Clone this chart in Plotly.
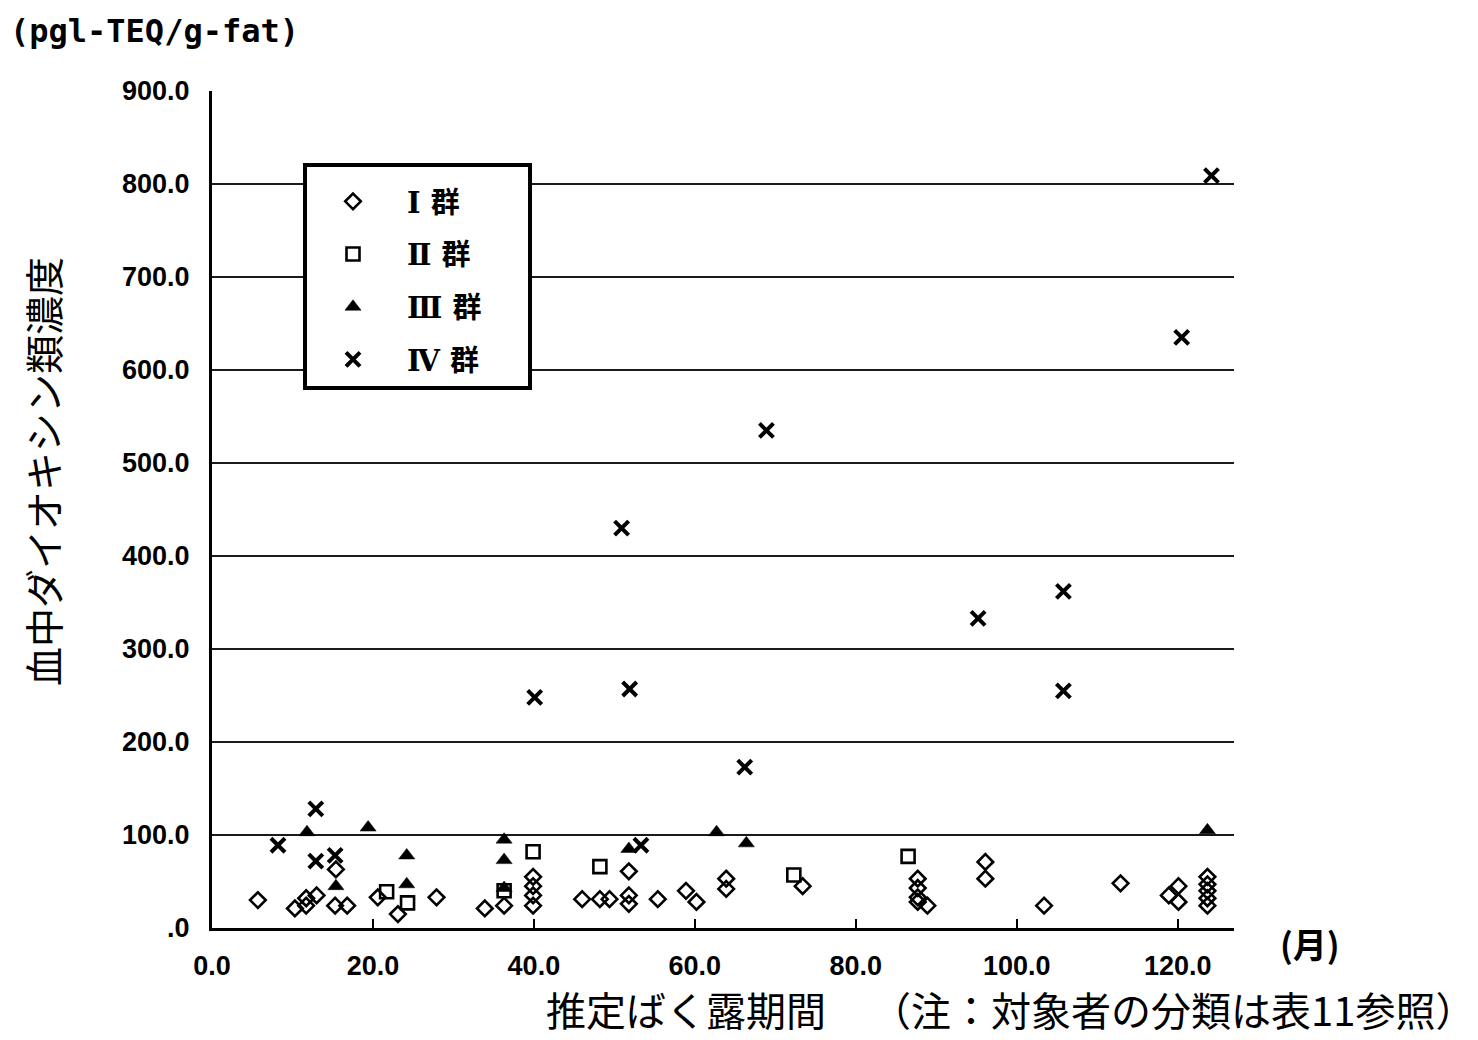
import plotly.graph_objects as go

# Data (x: estimated exposure period in months, y: blood dioxin concentration)
g1_x = [5.7, 10.3, 11.7, 11.7, 13.0, 15.4, 15.3, 16.8, 20.6, 23.1, 27.9, 33.9, 36.3,
        39.9, 39.9, 39.9, 39.9, 46.0, 48.2, 49.4, 51.8, 51.8, 51.8, 55.4, 58.9, 60.2,
        63.9, 63.9, 73.4, 87.7, 87.7, 87.7, 87.7, 88.9, 96.1, 96.1, 103.4, 112.9, 118.9,
        120.1, 120.1, 123.7, 123.7, 123.7, 123.7, 123.7]
g1_y = [30, 21, 24, 32, 35, 63, 24, 24, 33, 15, 33, 21, 24,
        55, 45, 35, 24, 31, 31, 31, 61, 35, 26, 31, 40, 28,
        53, 42, 45, 53, 43, 33, 28, 24, 71, 53, 24, 48, 35,
        45, 28, 55, 47, 40, 32, 24]

g2_x = [21.7, 24.3, 36.3, 39.9, 48.2, 72.3, 86.5]
g2_y = [39, 27, 40, 82, 66, 57, 77]

g3_x = [11.8, 15.4, 19.4, 24.2, 24.2, 36.3, 36.3, 36.3, 51.8, 62.7, 66.4, 123.7]
g3_y = [103, 45, 108, 78, 47, 95, 73, 43, 85, 103, 91, 105]

g4_x = [8.2, 12.9, 12.9, 15.3, 40.1, 50.9, 51.9, 53.3, 66.2, 68.9, 95.2, 105.8, 105.8, 120.5, 124.2]
g4_y = [89, 128, 72, 78, 248, 430, 257, 89, 173, 535, 333, 362, 255, 635, 809]

group_names = ["Ⅰ 群", "Ⅱ 群", "Ⅲ 群", "Ⅳ 群"]

y_tickvals = [0, 100, 200, 300, 400, 500, 600, 700, 800, 900]
y_ticktext = [".0", "100.0", "200.0", "300.0", "400.0", "500.0", "600.0", "700.0", "800.0", "900.0"]
x_tickvals = [0, 20, 40, 60, 80, 100, 120]
x_ticktext = ["0.0", "20.0", "40.0", "60.0", "80.0", "100.0", "120.0"]

TXT = "Liberation Sans"
CJK = "Noto Sans CJK JP"

# plot area geometry in pixels (for paper-coordinate placement of text)
L, R, T, B = 212, 244, 91, 112
W, H = 1478, 1040
PW, PH = W - L - R, H - T - B


def px(xp):
    return (xp - L) / PW


def py(yp):
    return (H - B - yp) / PH


fig = go.Figure()
fig.add_trace(go.Scatter(x=g1_x, y=g1_y, mode="markers", name="　" + group_names[0], legendgroup="g1",
                         marker=dict(symbol="diamond-open", size=12, color="black",
                                     line=dict(width=2.6, color="black"))))
fig.add_trace(go.Scatter(x=g2_x, y=g2_y, mode="markers", name="　" + group_names[1], legendgroup="g2",
                         marker=dict(symbol="square-open", size=13, color="black",
                                     line=dict(width=2.6, color="black"))))
fig.add_trace(go.Scatter(x=g3_x, y=g3_y, mode="markers", name="　" + group_names[2], legendgroup="g3",
                         marker=dict(symbol="triangle-up", size=14, color="black",
                                     line=dict(width=0.5, color="black"))))
fig.add_trace(go.Scatter(x=g4_x, y=g4_y, mode="markers", name="　" + group_names[3], legendgroup="g4",
                         marker=dict(symbol="x-thin-open", size=14, color="black",
                                     line=dict(width=4, color="black"))))

fig.update_layout(
    width=W, height=H,
    margin=dict(l=L, r=R, t=T, b=B),
    paper_bgcolor="white", plot_bgcolor="white",
    showlegend=True,
    legend=dict(x=px(328), y=py(176), xanchor="left", yanchor="top",
                borderwidth=0, bgcolor="rgba(0,0,0,0)",
                font=dict(family="DejaVu Serif, " + CJK, size=29, color="black", weight="bold"),
                itemwidth=40, tracegroupgap=12),
    xaxis=dict(range=[0, 127], tickvals=x_tickvals, ticktext=x_ticktext,
               showgrid=False, zeroline=False, showline=True, linecolor="black", linewidth=3,
               ticks="inside", ticklen=9, tickwidth=2, tickcolor="black",
               ticklabelstandoff=12,
               tickfont=dict(family=TXT, size=27, color="black", weight="bold")),
    yaxis=dict(range=[0, 900], tickvals=y_tickvals, ticktext=y_ticktext,
               showgrid=True, gridcolor="#1a1a1a", gridwidth=2,
               zeroline=False, showline=True, linecolor="black", linewidth=3,
               ticks="", ticklabelstandoff=14,
               tickfont=dict(family=TXT, size=27, color="black", weight="bold")),
)

# legend frame (opaque, drawn above gridlines; legend itself sits on top)
fig.add_shape(type="rect", xref="paper", yref="paper",
              x0=px(305), x1=px(530), y0=py(388), y1=py(165),
              line=dict(color="black", width=4), fillcolor="white", layer="above")

fig.add_annotation(text="(pgl-TEQ/g-fat)", xref="paper", yref="paper",
                   x=px(8), y=py(31), xanchor="left", yanchor="middle", showarrow=False,
                   font=dict(family="DejaVu Sans Mono", size=32, color="black", weight="bold"))
fig.add_annotation(text="血中ダイオキシン類濃度", xref="paper", yref="paper",
                   x=px(42), y=py(472), xanchor="center", yanchor="middle", textangle=-90,
                   showarrow=False, font=dict(family=CJK, size=39, color="black"))
fig.add_annotation(text="推定ばく露期間", xref="paper", yref="paper",
                   x=px(545), y=py(1009), xanchor="left", yanchor="middle", showarrow=False,
                   borderpad=0,
                   font=dict(family=CJK, size=40, color="black"))
fig.add_annotation(text="（注：対象者の分類は表11参照）", xref="paper", yref="paper",
                   x=px(1476), y=py(1009), xanchor="right", yanchor="middle", showarrow=False,
                   borderpad=0,
                   font=dict(family=CJK, size=40, color="black"))
fig.add_annotation(text="(月)", xref="paper", yref="paper",
                   x=px(1278), y=py(943), xanchor="left", yanchor="middle", showarrow=False,
                   font=dict(family=CJK, size=34, color="black", weight="bold"))

fig.write_html("out.html")
